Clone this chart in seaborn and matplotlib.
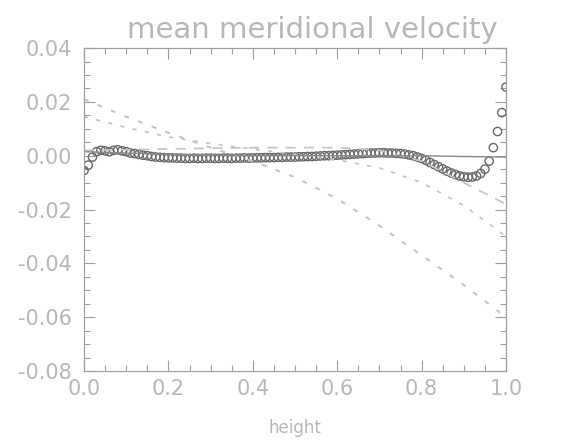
import numpy as np
import pandas as pd
import matplotlib
matplotlib.use("Agg")
import matplotlib.pyplot as plt
from matplotlib.ticker import MultipleLocator, FormatStrFormatter
import seaborn as sns

# profile heights of the sampled means (uniform grid)
height = np.linspace(0.0, 1.0, 101)

# sampled mean meridional velocity (open circles)
v_mean = [
    -0.0055, -0.0035, -0.0005, 0.0015, 0.0020, 0.0018, 0.0015, 0.0020, 0.0022, 0.0018,
    0.0015, 0.0010, 0.0008, 0.0005, 0.0002, 0.0000, -0.0003, -0.0005, -0.0006, -0.0007,
    -0.0008, -0.0008, -0.0009, -0.0009, -0.0010, -0.0010, -0.0009, -0.0010, -0.0010, -0.0009,
    -0.0009, -0.0010, -0.0010, -0.0009, -0.0009, -0.0010, -0.0009, -0.0009, -0.0008, -0.0009,
    -0.0008, -0.0008, -0.0008, -0.0007, -0.0007, -0.0007, -0.0006, -0.0006, -0.0005, -0.0005,
    -0.0005, -0.0004, -0.0004, -0.0003, -0.0003, -0.0002, -0.0001, 0.0000, 0.0000, 0.0001,
    0.0002, 0.0003, 0.0004, 0.0005, 0.0006, 0.0007, 0.0008, 0.0009, 0.0010, 0.0010,
    0.0011, 0.0011, 0.0010, 0.0010, 0.0009, 0.0008, 0.0006, 0.0003, 0.0000, -0.0005,
    -0.0010, -0.0017, -0.0025, -0.0033, -0.0041, -0.0049, -0.0057, -0.0064, -0.0070, -0.0075,
    -0.0078, -0.0080, -0.0079, -0.0075, -0.0066, -0.0050, -0.0020, 0.0030, 0.0090, 0.0160,
    0.0255,
]

# model profiles, tabulated every 0.1 in height
h_model = [0.0, 0.1, 0.2, 0.3, 0.4, 0.5, 0.6, 0.7, 0.8, 0.9, 1.0]
v_solid = [0.0015, 0.0010, 0.0005, 0.0002, 0.0000, 0.0000, 0.0000, 0.0000, 0.0000, -0.0003, -0.0005]
v_dash_a = [0.0210, 0.0145, 0.0085, 0.0030, -0.0020, -0.0080, -0.0160, -0.0260, -0.0370, -0.0480, -0.0600]
v_dash_b = [0.0145, 0.0105, 0.0070, 0.0045, 0.0025, 0.0005, -0.0015, -0.0045, -0.0100, -0.0185, -0.0300]
v_dash_c = [0.0020, 0.0022, 0.0025, 0.0028, 0.0030, 0.0030, 0.0030, 0.0020, -0.0020, -0.0100, -0.0180]

sns.set_theme(style="ticks")
plt.rcParams["font.family"] = ["DejaVu Sans"]

text_col = "#b8b8b8"
axis_col = "#a0a0a0"
line_col = "#c4c4c4"

fig = plt.figure(figsize=(5.65, 4.41), dpi=100)
ax = fig.add_axes([0.1487, 0.1587, 0.7469, 0.7323])

sns.lineplot(x=h_model, y=v_dash_a, ax=ax, color=line_col, lw=1.4,
             linestyle=(0, (2.5, 5)), estimator=None)
sns.lineplot(x=h_model, y=v_dash_b, ax=ax, color=line_col, lw=1.2,
             linestyle=(0, (2.5, 5)), estimator=None)
sns.lineplot(x=h_model, y=v_dash_c, ax=ax, color=line_col, lw=1.2,
             linestyle=(0, (6, 5)), estimator=None)
sns.lineplot(x=h_model, y=v_solid, ax=ax, color="#8a8a8a", lw=1.0, estimator=None)

df = pd.DataFrame({"height": height, "v": v_mean})
sns.scatterplot(data=df, x="height", y="v", ax=ax, marker="o", s=36,
                facecolors="none", edgecolor="#6a6a6a", linewidth=1.0)

ax.set_xlim(0.0, 1.0)
ax.set_ylim(-0.08, 0.04)
ax.xaxis.set_major_locator(MultipleLocator(0.2))
ax.xaxis.set_minor_locator(MultipleLocator(0.05))
ax.yaxis.set_major_locator(MultipleLocator(0.02))
ax.yaxis.set_minor_locator(MultipleLocator(0.005))
ax.xaxis.set_major_formatter(FormatStrFormatter("%.1f"))
ax.yaxis.set_major_formatter(FormatStrFormatter("%.2f"))

ax.tick_params(which="both", direction="in", top=True, right=True,
               color=axis_col, labelcolor=text_col, width=0.8)
ax.tick_params(which="major", length=8, labelsize=15)
ax.tick_params(which="minor", length=4)
ax.tick_params(axis="x", which="major", pad=6)
ax.tick_params(axis="y", which="major", pad=9)
for s in ax.spines.values():
    s.set_color(axis_col)
    s.set_linewidth(0.9)

ax.set_xlabel("height", color=text_col, fontsize=12, labelpad=14)
ax.set_ylabel("")
fig.text(0.552, 0.933, "mean meridional velocity", color=text_col,
         fontsize=21, ha="center", va="center")

fig.savefig("out.png", dpi=100)
